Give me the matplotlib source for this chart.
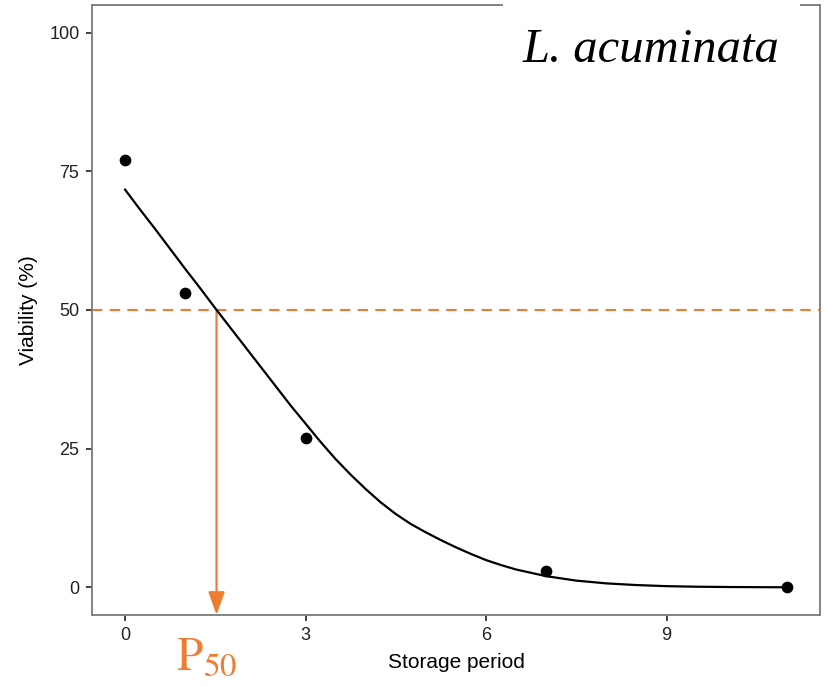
#!/usr/bin/env python3

import numpy as np
import matplotlib.pyplot as plt
from matplotlib.patches import Rectangle

# observed viability
period = [0, 1, 3, 7, 11]
viability = [77, 53, 27, 3, 0]

# fitted curve
fit_x = [0, 0.25, 0.5, 0.75, 1, 1.25, 1.5, 1.75, 2, 2.25, 2.5, 2.75, 3, 3.25,
         3.5, 3.75, 4, 4.25, 4.5, 4.75, 5, 5.25, 5.5, 5.75, 6, 6.25, 6.5,
         6.75, 7, 7.25, 7.5, 7.75, 8, 8.5, 9, 9.5, 10, 10.5, 11]
fit_y = [71.7, 68.1, 64.6, 61.0, 57.4, 53.9, 50.3, 46.8, 43.3, 39.8, 36.3,
         32.8, 29.5, 26.2, 23.1, 20.3, 17.7, 15.3, 13.2, 11.4, 9.9, 8.5,
         7.2, 6.0, 4.9, 4.0, 3.2, 2.6, 2.0, 1.6, 1.2, 0.95, 0.7, 0.4, 0.2,
         0.1, 0.05, 0.02, 0.0]

p50 = 1.52
xticks = [0, 3, 6, 9]
yticks = [0, 25, 50, 75, 100]

orange = '#ED7D31'

plt.rcParams['font.family'] = ['Liberation Sans', 'DejaVu Sans']
plt.rcParams['mathtext.fontset'] = 'stix'

fig = plt.figure(figsize=(8.3, 6.86), dpi=100)
ax = fig.add_axes([92 / 830, 1 - 615 / 686, 728 / 830, 610 / 686])

ax.plot(fit_x, fit_y, c='black', lw=1.6, zorder=3, solid_joinstyle='round')
ax.scatter(period, viability, s=55, c='black', zorder=4)

ax.axhline(50, c=orange, lw=1.5, ls=(0, (5, 3.5)), zorder=2)
ax.annotate('', xy=(p50, -5), xytext=(p50, 50),
            arrowprops=dict(arrowstyle='-|>,head_length=1.4,head_width=0.5',
                            color=orange, lw=1.6, shrinkA=0, shrinkB=0),
            zorder=2, annotation_clip=False)

ax.set_xlim(-0.55, 11.55)
ax.set_ylim(-5, 105)
ax.set_xticks(xticks)
ax.set_yticks(yticks)
ax.tick_params(length=4, width=1.3, color='#333333', labelsize=13,
               labelcolor='#222222', pad=5)
for s in ax.spines.values():
    s.set_color('#7a7a7a')
    s.set_linewidth(1.3)

ax.set_xlabel('Storage period', fontsize=15, labelpad=6)
ax.set_ylabel('Viability (%)', fontsize=15, labelpad=8)

# white label box pasted over the top frame
fig.patches.append(Rectangle((503 / 830, 1 - 85 / 686), 297 / 830, 85 / 686,
                             transform=fig.transFigure, facecolor='white',
                             edgecolor='none', zorder=5))
fig.text(523 / 830, 1 - 62 / 686, 'L. acuminata', family='Liberation Serif',
         style='italic', fontsize=35, va='baseline', ha='left', zorder=6)
fig.text(176 / 830, 1 - 670 / 686, r'$\mathrm{P}_{50}$', color=orange,
         fontsize=34, va='baseline', ha='left')

p = plt.gcf()
p.savefig('out.png', dpi=100)
